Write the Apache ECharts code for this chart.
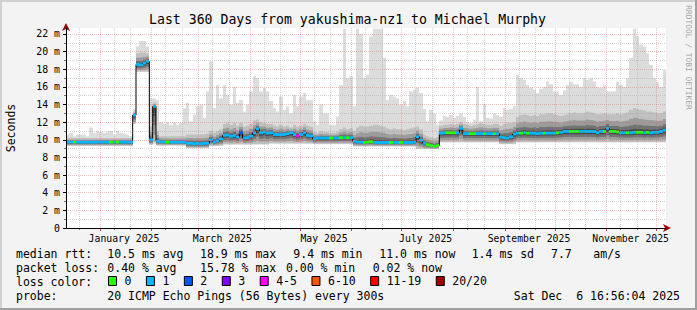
<!DOCTYPE html>
<html><head><meta charset="utf-8">
<script src="https://cdn.jsdelivr.net/npm/echarts@6/dist/echarts.min.js"></script>
<style>html,body{margin:0;padding:0;background:#f3f3f3}#c{width:697px;height:310px}</style>
</head><body><div id="c"></div>
<script>
// ---------- data (2-day columns, 360 days ending Sat Dec 6 16:56:04 2025) ----------
const DAY = 86400000;
const END = Date.UTC(2025, 11, 6, 16, 56, 4);
const START = END - 360 * DAY;
const STEP = 2 * DAY;

const median = [
 9.75,9.75,9.75,9.75,9.75,9.75,9.75,9.75,9.75,9.75,
 9.75,9.75,9.75,9.75,9.75,9.75,9.75,9.75,9.75,9.75,
 12.8,18.55,18.5,18.7,18.9,10.0,13.8,9.85,9.8,9.75,
 9.75,9.75,9.75,9.75,9.75,9.75,9.6,9.6,9.55,9.6,
 9.55,9.6,9.6,10.0,9.75,9.9,10.1,10.5,10.55,10.4,
 10.5,10.3,10.8,10.2,10.25,10.4,10.8,11.25,10.8,10.9,
 10.75,10.8,10.6,10.6,10.6,10.6,10.7,10.8,10.6,10.45,
 10.6,10.8,10.5,10.45,10.1,10.2,10.2,10.2,10.2,10.2,
 10.2,10.2,10.25,10.25,10.25,10.25,9.85,9.75,9.75,9.7,
 9.75,9.8,9.7,9.7,9.7,9.7,9.7,9.7,9.7,9.7,
 9.7,9.7,9.7,9.7,9.75,10.35,9.95,9.6,9.45,9.35,
 9.25,9.35,10.75,10.8,10.8,10.8,10.8,10.8,11.3,10.7,
 10.7,10.7,10.7,10.7,10.7,10.7,10.7,10.7,10.7,10.7,
 10.3,10.25,10.2,10.35,10.65,10.75,10.75,10.8,10.75,10.75,
 10.75,10.7,10.75,10.75,10.75,10.75,10.75,10.8,10.85,10.95,
 10.95,10.95,10.95,10.95,10.95,10.95,10.95,10.95,10.95,10.8,
 10.95,10.95,11.3,10.95,10.95,10.9,10.8,10.8,10.8,10.8,
 10.85,10.85,10.85,10.8,10.85,10.8,10.85,10.85,10.95,11.1
];
// lost pings (of 20) per column
const lossPings = [
 1,1,0,1,1,1,1,1,1,1,
 1,1,1,0,1,0,1,1,1,1,
 1,1,1,1,1,1,1,1,1,1,
 0,1,1,1,1,1,1,1,1,1,
 1,1,1,1,1,1,1,1,1,1,
 1,1,2,1,1,1,1,1,1,1,
 1,1,1,1,1,1,1,1,1,4,
 1,1,1,1,1,1,1,1,1,0,
 1,1,0,1,0,1,1,1,1,0,
 0,0,1,1,1,1,1,0,1,1,
 0,1,1,1,1,1,1,1,0,0,
 0,0,1,1,0,0,0,1,1,1,
 1,0,0,1,1,0,1,1,0,1,
 1,1,1,1,1,1,0,1,0,1,
 1,1,1,0,1,1,1,0,1,1,
 1,0,0,0,1,1,1,1,1,1,
 1,0,1,0,0,0,1,1,0,1,
 1,0,0,1,0,1,1,1,1,1
];
const smokeMin = [
 9.3,9.3,9.3,9.3,9.3,9.3,9.3,9.3,9.3,9.3,
 9.3,9.3,9.3,9.3,9.3,9.3,9.3,9.3,9.3,9.3,
 11.8,17.7,17.7,17.7,17.7,9.45,9.5,9.35,9.35,9.35,
 9.35,9.35,9.35,9.35,9.35,9.35,9.05,9.05,9.05,9.05,
 9.05,9.05,9.05,9.3,9.3,9.3,9.3,9.45,9.45,9.45,
 9.45,9.45,9.45,9.45,9.45,9.45,9.45,9.45,9.45,9.45,
 9.45,9.55,9.55,9.55,9.55,9.55,9.55,9.55,9.55,9.55,
 9.55,9.55,9.55,9.55,9.5,9.5,9.5,9.5,9.5,9.5,
 9.5,9.5,9.5,9.5,9.5,9.5,9.25,9.25,9.25,9.25,
 9.25,9.25,9.25,9.25,9.25,9.25,9.25,9.25,9.25,9.25,
 9.25,9.25,9.25,9.25,9.25,8.95,8.95,8.95,8.95,8.95,
 8.95,8.95,9.7,9.7,9.7,9.7,9.7,9.7,9.7,9.7,
 9.7,9.7,9.7,9.7,9.7,9.7,9.7,9.7,9.7,9.7,
 9.5,9.5,9.5,9.5,9.5,9.7,9.7,9.7,9.7,9.7,
 9.7,9.7,9.7,9.7,9.7,9.7,9.7,9.7,9.7,9.7,
 9.7,9.7,9.7,9.7,9.7,9.7,9.7,9.7,9.7,9.7,
 9.7,9.7,9.7,9.7,9.7,9.7,9.7,9.7,9.7,9.7,
 9.7,9.7,9.7,9.7,9.7,9.7,9.7,9.7,9.7,9.7
];
const smokeInner = [
 10.2,10.2,10.2,10.2,10.2,10.2,10.2,10.2,10.2,10.2,
 10.2,10.2,10.2,10.2,10.2,10.2,10.2,10.2,10.2,10.2,
 13.2,19.8,19.9,19.9,19.8,11.5,14.2,11.0,10.4,10.4,
 10.4,10.4,10.4,10.4,10.4,10.4,10.6,10.6,10.6,10.6,
 10.6,10.6,10.7,11.0,10.8,11.0,11.2,11.8,11.9,11.7,
 11.9,11.6,11.9,11.5,11.6,11.8,12.2,12.3,12.0,11.9,
 11.8,11.8,11.6,11.5,11.7,11.5,11.6,11.4,11.7,11.5,
 11.6,11.8,11.6,11.5,10.9,10.8,11.0,10.9,10.9,10.8,
 10.8,10.9,11.2,11.4,11.2,11.3,11.0,11.4,11.6,11.5,
 11.5,11.6,11.7,11.7,11.6,11.5,11.3,11.2,11.3,11.2,
 11.2,11.1,11.2,11.3,11.4,11.5,11.2,10.6,10.4,10.3,
 10.2,10.3,11.6,11.7,11.7,11.8,11.7,11.8,12.0,11.8,
 11.7,11.6,11.7,11.8,11.9,11.8,11.7,11.7,11.8,11.8,
 11.6,11.8,11.9,11.9,12.0,12.6,12.8,12.9,12.8,12.7,
 12.8,12.7,12.9,12.9,13.0,13.0,12.9,12.8,12.7,12.8,
 12.9,13.0,13.1,13.0,13.0,13.0,13.2,13.1,13.0,12.9,
 12.9,13.0,12.9,12.9,12.9,13.0,12.9,13.0,13.1,13.4,
 13.6,13.5,13.4,13.3,13.2,13.2,13.1,13.0,13.0,13.2
];
const smokeMax = [
 10.6,10.8,10.4,10.6,10.6,10.6,10.4,11.4,10.8,11.0,
 10.9,10.8,10.9,11.0,10.6,11.0,10.8,10.7,10.6,10.4,
 13.5,20.6,21.2,21.2,20.6,14.7,14.7,14.5,12.0,11.8,
 12.0,11.7,12.0,11.7,11.9,13.6,14.2,12.1,12.85,13.8,
 14.0,12.5,15.5,18.9,13.6,16.2,14.7,16.2,15.1,14.0,
 16.0,14.2,14.5,13.2,14.0,15.5,17.2,17.0,15.5,15.9,
 15.5,14.4,13.6,13.2,14.9,13.4,13.8,13.0,15.1,13.8,
 14.9,15.3,14.5,14.5,12.1,11.7,14.0,13.0,13.0,11.7,
 11.7,12.65,16.2,22.6,17.0,17.2,13.8,22.6,22.0,17.0,
 17.4,21.7,22.6,22.6,22.6,19.3,14.5,15.1,14.9,14.7,
 14.0,14.4,13.8,15.5,15.7,15.9,15.3,13.5,12.1,13.4,
 13.0,11.7,12.2,12.7,12.6,12.8,12.5,12.7,13.0,12.6,
 12.0,11.9,12.3,16.0,12.1,14.1,12.5,12.4,13.0,12.8,
 12.6,13.6,13.4,13.5,13.8,17.4,17.0,16.8,16.2,15.9,
 15.7,15.3,15.8,16.0,16.6,16.3,15.5,15.5,15.1,15.6,
 16.2,16.6,16.3,16.3,16.0,17.0,16.8,17.0,16.6,16.0,
 15.9,16.2,15.5,15.5,15.5,16.6,16.2,16.0,17.0,19.3,
 22.6,21.8,20.8,20.6,19.8,18.5,17.0,16.5,16.0,17.9
];

const lossBuckets = ['0','1','2','3','4-5','6-10','11-19','20/20'];
const lossColors = ['#26ff00','#00b8ff','#0059ff','#7e00ff','#ff00ff','#ff5500','#ff0000','#a10000'];

const yTicks = [0,2,4,6,8,10,12,14,16,18,20,22];
const yMinorTicks = [1,3,5,7,9,11,13,15,17,19,21];
const Y_MAX = 22.68;

const monthLabels = ['January 2025','March 2025','May 2025','July 2025','September 2025','November 2025'];
const monthLabelDates = [0,2,4,6,8,10].map(m => Date.UTC(2025, m, 15, 12));
const monthStarts = [0,1,2,3,4,5,6,7,8,9,10,11].map(m => Date.UTC(2025, m, 1));
const minorDates = [];
[[2024,11]].concat([0,1,2,3,4,5,6,7,8,9,10,11].map(m => [2025, m])).forEach(([y, m]) => {
  minorDates.push(Date.UTC(y, m, 9, 12), Date.UTC(y, m, 19, 12));
});

const rttStats = [['median rtt:',16],['10.5 ms avg',107.3],['18.9 ms max',200],['9.4 ms min',293.3],['11.0 ms now',379.3],['1.4 ms sd',471.7],['7.7',551],['am/s',593.3]];
const lossStats = [['packet loss:',16],['0.40 % avg',107.3],['15.78 % max',200],['0.00 % min',286],['0.02 % now',372.7]];

// ---------- chart ----------
const FONT = 'DejaVu Sans Mono';
const colT = i => START + i * STEP;
function bucketOf(p) { if (p <= 3) return p; if (p <= 5) return 4; if (p <= 10) return 5; if (p <= 19) return 6; return 7; }

const smokeData = median.map((m, i) => [colT(i), colT(i + 1), smokeMin[i], smokeInner[i], smokeMax[i], m]);

function renderSmoke(params, api) {
  const t0 = api.value(0), t1 = api.value(1), lo = api.value(2), q = api.value(3), hi = api.value(4), m = api.value(5);
  const x0 = Math.round(api.coord([t0, 0])[0]), x1 = Math.round(api.coord([t1, 0])[0]);
  const Y = v => api.coord([t0, v])[1];
  const bands = [
    [lo, hi, '#dcdcdc'],
    [m - (m - lo) * 0.95, q, '#c0c0c0'],
    [m - (m - lo) * 0.75, m + (q - m) * 0.6, '#9c9c9c'],
    [m - (m - lo) * 0.5, m + (q - m) * 0.32, '#737373'],
    [m - (m - lo) * 0.25, m + (q - m) * 0.14, '#4a4a4a']
  ];
  return { type: 'group', children: bands.map(([a, b, c]) => ({
    type: 'rect', shape: { x: x0, y: Y(b), width: x1 - x0, height: Y(a) - Y(b) }, style: { fill: c }
  })) };
}
function renderMed(params, api) {
  const t0 = api.value(0), t1 = api.value(1), m = api.value(2);
  const p0 = api.coord([t0, m]), p1 = api.coord([t1, m]);
  const x0 = Math.round(p0[0]), x1 = Math.round(p1[0]);
  return { type: 'rect', shape: { x: x0, y: p0[1] - 1.4, width: x1 - x0, height: 2.8 }, style: { fill: api.visual('color') } };
}

const series = [{
  type: 'custom', name: 'smoke', renderItem: renderSmoke, data: smokeData, z: 1, clip: true,
  encode: { x: [0, 1], y: [2, 4] }, silent: true
}, {
  type: 'line', name: 'median', data: median.map((m, i) => [colT(i), m]), step: 'end',
  symbol: 'none', lineStyle: { color: '#000', width: 1 }, z: 3, silent: true
}];
lossBuckets.forEach((name, b) => {
  series.push({
    type: 'custom', name, renderItem: renderMed, z: 4, silent: true,
    itemStyle: { color: lossColors[b] },
    encode: { x: [0, 1], y: 2 },
    data: median.map((m, i) => [colT(i), colT(i + 1), m, lossPings[i]]).filter(d => bucketOf(d[3]) === b)
  });
});

const xBase = { type: 'value', min: START, max: END, gridIndex: 0, position: 'bottom',
  axisLabel: { show: false }, axisTick: { show: false }, axisLine: { show: false, onZero: false }, splitLine: { show: false } };
const yBase = { type: 'value', min: 0, max: Y_MAX, gridIndex: 0, position: 'left',
  axisLabel: { show: false }, axisTick: { show: false }, axisLine: { show: false, onZero: false }, splitLine: { show: false } };

const gridMajor = { color: 'rgba(235,90,90,0.38)', type: 'dotted', width: 1 };
const gridMinor = { color: 'rgba(150,150,150,0.38)', type: 'dotted', width: 1 };

const textEl = (text, x, y, size, extra) => Object.assign({
  type: 'text', x, y, silent: true,
  style: { text, fill: '#000', font: size + 'px "' + FONT + '"', textAlign: 'left', textVerticalAlign: 'middle' }
}, extra || {});

const graphics = [
  { type: 'rect', shape: { x: 0, y: 0, width: 697, height: 2 }, style: { fill: '#d0d0d0' }, silent: true },
  { type: 'rect', shape: { x: 0, y: 0, width: 2, height: 310 }, style: { fill: '#d0d0d0' }, silent: true },
  { type: 'rect', shape: { x: 0, y: 308, width: 697, height: 2 }, style: { fill: '#a0a0a0' }, silent: true },
  { type: 'rect', shape: { x: 695, y: 0, width: 2, height: 310 }, style: { fill: '#a0a0a0' }, silent: true },
  textEl('Last 360 Days from yakushima-nz1 to Michael Murphy', 347.5, 19, 13.2, {}),
  textEl('Seconds', 11, 128, 11.5, { rotation: Math.PI / 2 }),
  textEl('RRDTOOL / TOBI OETIKER', 688.5, 57.5, 7.9, { rotation: -Math.PI / 2 }),
  textEl('loss color:', 16, 282.3, 11.5),
  textEl('probe:', 16, 296, 11.5),
  textEl('20 ICMP Echo Pings (56 Bytes) every 300s', 107.3, 296, 11.5),
  textEl('Sat Dec  6 16:56:04 2025', 680, 296, 11.5)
];
graphics[4].style.textAlign = 'center';
graphics[5].style.textAlign = 'center';
graphics[6].style.textAlign = 'center';
graphics[6].style.fill = '#a8a8a8';
graphics[10].style.textAlign = 'right';
rttStats.forEach(([t, x]) => graphics.push(textEl(t, x, 254.3, 11.5)));
lossStats.forEach(([t, x]) => graphics.push(textEl(t, x, 268.3, 11.5)));

const option = {
  animation: false,
  backgroundColor: '#f3f3f3',
  grid: { left: 66, top: 28, width: 600, height: 200, show: true, backgroundColor: '#ffffff', borderWidth: 0, containLabel: false, outerBoundsMode: 'none' },
  legend: {
    left: 108, top: 275, padding: 0, itemWidth: 8, itemHeight: 9, itemGap: 14.5, icon: 'rect', selectedMode: false,
    itemStyle: { borderColor: '#000', borderWidth: 1 },
    textStyle: { fontFamily: FONT, fontSize: 11.5, color: '#000', padding: [0, 0, 0, 3] },
    data: lossBuckets
  },
  xAxis: [
    Object.assign({}, xBase, { z: 12,
      axisLine: { show: true, onZero: false, lineStyle: { color: '#000', width: 1 } },
      axisLabel: { show: true, customValues: monthLabelDates, margin: 5, fontFamily: FONT, fontSize: 9.8, color: '#000',
        formatter: v => { let k = 0, d = Infinity; monthLabelDates.forEach((t, j) => { if (Math.abs(t - v) < d) { d = Math.abs(t - v); k = j; } }); return monthLabels[k]; } }
    }),
    Object.assign({}, xBase, { z: 11,
      axisLine: { show: true, onZero: false, symbol: ['none', 'arrow'], symbolSize: [6, 8], symbolOffset: [0, 5], lineStyle: { color: '#990000', width: 1 } },
      axisTick: { show: true, customValues: monthStarts, length: 3, lineStyle: { color: '#d04040' } },
      splitLine: { show: true, lineStyle: gridMajor }
    }),
    Object.assign({}, xBase, { z: 10,
      axisTick: { show: true, customValues: minorDates, length: 2, lineStyle: { color: '#777' } },
      splitLine: { show: true, lineStyle: gridMinor }
    })
  ],
  yAxis: [
    Object.assign({}, yBase, { z: 12,
      axisLine: { show: true, onZero: false, lineStyle: { color: '#000', width: 1 } },
      axisTick: { show: true, customValues: yTicks, length: 3, lineStyle: { color: '#000' } },
      axisLabel: { show: true, customValues: yTicks, margin: 6, fontFamily: FONT, fontSize: 9.9, color: '#000',
        formatter: v => v === 0 ? '0' : v + ' m' },
      splitLine: { show: true, lineStyle: gridMajor }
    }),
    Object.assign({}, yBase, { z: 11,
      axisLine: { show: true, onZero: false, symbol: ['none', 'arrow'], symbolSize: [6, 8], symbolOffset: [0, 5], lineStyle: { color: '#990000', width: 1 } },
      axisTick: { show: true, customValues: yMinorTicks, length: 2, lineStyle: { color: '#777' } },
      splitLine: { show: true, lineStyle: gridMinor }
    })
  ],
  series,
  graphic: graphics
};

const chart = echarts.init(document.getElementById('c'), null, { renderer: 'svg', width: 697, height: 310 });
chart.setOption(option);
</script>
</body></html>
